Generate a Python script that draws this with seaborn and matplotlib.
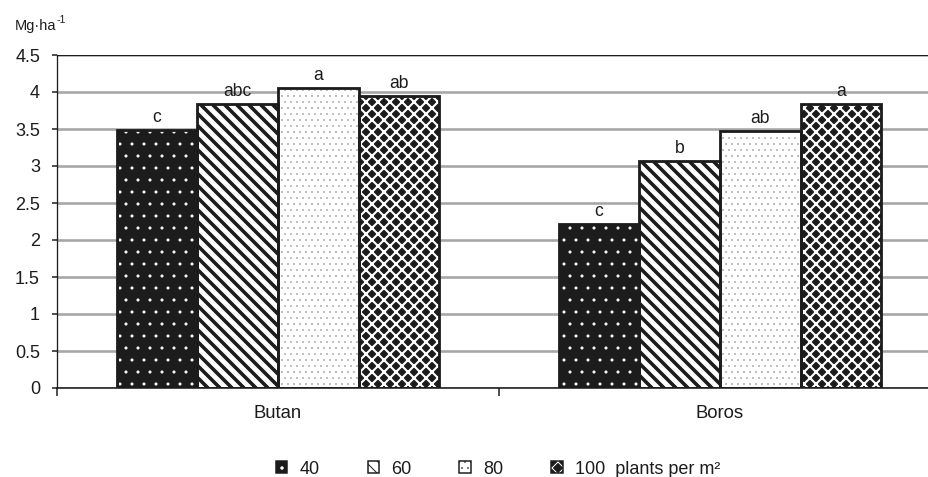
import matplotlib
matplotlib.use("Agg")
import matplotlib.pyplot as plt
from matplotlib.patches import Rectangle, Patch
from matplotlib.legend_handler import HandlerTuple
import seaborn as sns
import pandas as pd

# Grain yield by cultivar and plant density
cultivars = ["Butan", "Boros"]
densities = ["40", "60", "80", "100"]
yield_butan = [3.49, 3.84, 4.05, 3.95]
yield_boros = [2.21, 3.07, 3.47, 3.84]
letters_butan = ["c", "abc", "a", "ab"]
letters_boros = ["c", "b", "ab", "a"]
yticks = [0, 0.5, 1, 1.5, 2, 2.5, 3, 3.5, 4, 4.5]
ytick_labels = ["0", "0.5", "1", "1.5", "2", "2.5", "3", "3.5", "4", "4.5"]
legend_labels = ["40", "60", "80", "100  plants per m\u00b2"]

df = pd.DataFrame({
    "cultivar": [c for c in cultivars for _ in densities],
    "density": densities * len(cultivars),
    "yield": yield_butan + yield_boros,
})
letters = {("Butan", d): l for d, l in zip(densities, letters_butan)}
letters.update({("Boros", d): l for d, l in zip(densities, letters_boros)})

INK = "#1c1c1c"
# fill style per density: face colour, hatch, hatch colour, hatch line width
styles = {
    "40": (INK, ".", "white", 0.6),
    "60": ("white", "\\\\", INK, 3.6),
    "80": ("white", "..", "#7a7a7a", 0.3),
    "100": (INK, "xx", "white", 2.1),
}

sns.set_theme(style="white")
plt.rcParams["font.family"] = ["Liberation Sans", "DejaVu Sans"]

DPI = 72
fig = plt.figure(figsize=(928 / DPI, 477 / DPI), dpi=DPI)
ax = fig.add_axes([57 / 928, 89 / 477, 884 / 928, 333 / 477])

sns.barplot(data=df, x="cultivar", y="yield", hue="density",
            order=cultivars, hue_order=densities, width=0.73,
            palette=["white"] * 4, saturation=1, legend=False, ax=ax,
            errorbar=None, zorder=2)

for dens, container in zip(densities, ax.containers):
    face, hatch, hcol, hlw = styles[dens]
    for cult, bar in zip(cultivars, container):
        bar.set_facecolor(face)
        bar.set_hatch(hatch)
        bar.set_edgecolor(hcol)
        bar.set_linewidth(0)
        if hasattr(bar, "set_hatch_linewidth"):
            bar.set_hatch_linewidth(hlw)
        x, w, h = bar.get_x(), bar.get_width(), bar.get_height()
        ax.add_patch(Rectangle((x, 0), w, h, fill=False, edgecolor=INK,
                               linewidth=2.8, zorder=3, joinstyle="miter"))
        ax.annotate(letters[(cult, dens)], xy=(x + w / 2, h), xytext=(0, 8),
                    textcoords="offset points", ha="center", va="baseline",
                    fontsize=17.5, color=INK, zorder=4)

ax.set_xlim(-0.5, 1.5)
ax.set_ylim(0, 4.5)
ax.set_yticks(yticks)
ax.set_yticklabels(ytick_labels, fontsize=18, color=INK)
ax.yaxis.grid(True, color="#a6a6a6", linewidth=2.6)
ax.set_axisbelow(True)
ax.tick_params(axis="y", left=True, length=5, width=1.5, pad=12, color=INK)

ax.set_xticks([0, 1])
ax.set_xticklabels(cultivars, fontsize=18.5, color=INK)
ax.tick_params(axis="x", which="major", length=0, pad=17)
ax.set_xticks([-0.5, 0.5, 1.5], minor=True)
ax.tick_params(axis="x", which="minor", bottom=True, length=8, width=1.5,
               color=INK)
ax.set_xlabel("")
ax.set_ylabel("")

for side in ["left", "bottom", "top"]:
    ax.spines[side].set_visible(True)
    ax.spines[side].set_color(INK)
ax.spines["left"].set_linewidth(1.3)
ax.spines["bottom"].set_linewidth(1.6)
ax.spines["top"].set_linewidth(1.0)
ax.spines["right"].set_visible(False)

# unit label with a raised exponent
unit = fig.text(15 / 928, 1 - 26 / 477, "Mg\u00b7ha", fontsize=14.5,
                color=INK, va="center", ha="left")
fig.canvas.draw()
ax.annotate("-1", xy=(1.0, 0.95), xycoords=unit, xytext=(0.5, 0),
            textcoords="offset points", fontsize=10.5, color=INK,
            ha="left", va="center", annotation_clip=False)

# legend: hatched swatch with a dark outline on top
handles = []
for dens in densities:
    face, hatch, hcol, hlw = styles[dens]
    p = Patch(facecolor=face, hatch=hatch, edgecolor=hcol, linewidth=0)
    if hasattr(p, "set_hatch_linewidth"):
        p.set_hatch_linewidth(hlw)
    o = Patch(facecolor="none", edgecolor=INK, linewidth=1.5)
    handles.append((p, o))
fig.legend(handles, legend_labels, handler_map={tuple: HandlerTuple(ndivide=1)},
           loc="center", bbox_to_anchor=(498 / 928, 1 - 469 / 477), ncol=4,
           frameon=False, fontsize=18, handlelength=0.64, handleheight=0.64,
           handletextpad=0.67, columnspacing=2.67, labelcolor=INK)

fig.savefig("out.png", dpi=DPI)
